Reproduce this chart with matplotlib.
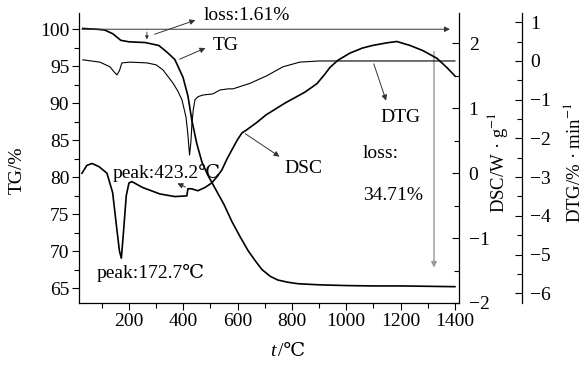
import matplotlib
matplotlib.use('agg')
import matplotlib.pyplot as plt
from matplotlib.ticker import MultipleLocator

plt.rcParams['font.family'] = ['Liberation Serif', 'DejaVu Serif', 'Noto Sans CJK SC']
plt.rcParams['mathtext.fontset'] = 'stix'
plt.rcParams['axes.unicode_minus'] = True

FS = 14

# TG curve (%)
tg_t = [30, 80, 110, 140, 170, 200, 260, 310, 340, 369, 399, 417, 432, 450, 469,
        490, 517, 550, 579, 610, 638, 665, 690, 720, 748, 785, 822, 900, 1000,
        1100, 1200, 1300, 1400]
tg_val = [100.1, 100.0, 99.9, 99.4, 98.5, 98.3, 98.2, 97.8, 96.9, 95.9, 93.5, 91.0,
          87.6, 84.5, 82.0, 80.3, 78.5, 76.3, 74.0, 71.9, 70.1, 68.7, 67.5, 66.6,
          66.1, 65.8, 65.6, 65.45, 65.35, 65.3, 65.3, 65.25, 65.2]

# DSC curve (W/g)
dsc_t = [27, 45, 64, 90, 119, 140, 155, 165, 172, 180, 190, 200, 211, 250, 314,
         369, 413, 417, 430, 454, 480, 505, 525, 542, 561, 579, 600, 616, 634,
         670, 705, 774, 848, 892, 920, 940, 969, 1013, 1060, 1098, 1150, 1186,
         1234, 1282, 1334, 1370, 1400]
dsc_val = [0.0, 0.12, 0.15, 0.1, 0.0, -0.3, -0.85, -1.2, -1.31, -0.9, -0.35, -0.15,
           -0.13, -0.22, -0.32, -0.36, -0.35, -0.24, -0.24, -0.27, -0.22, -0.15,
           -0.05, 0.05, 0.22, 0.36, 0.52, 0.62, 0.67, 0.78, 0.9, 1.08, 1.25, 1.38,
           1.52, 1.63, 1.74, 1.85, 1.93, 1.97, 2.01, 2.03, 1.97, 1.89, 1.77, 1.63,
           1.5]

# DTG curve (%/min)
dtg_t = [30, 93, 130, 145, 156, 165, 174, 204, 266, 300, 325, 362, 380, 395, 410,
         417, 423, 428, 432, 437, 443, 455, 472, 509, 535, 565, 583, 645, 708,
         767, 829, 900, 1000, 1100, 1200, 1300, 1400]
dtg_val = [0.03, -0.03, -0.15, -0.28, -0.36, -0.25, -0.05, -0.03, -0.05, -0.1,
           -0.23, -0.57, -0.78, -1.0, -1.45, -1.9, -2.43, -2.1, -1.6, -1.25, -1.0,
           -0.92, -0.88, -0.85, -0.75, -0.72, -0.72, -0.58, -0.38, -0.15, -0.03,
           0.0, 0.0, 0.0, 0.0, 0.0, 0.0]

fig = plt.figure(figsize=(5.85, 3.65), dpi=100)
ax = fig.add_axes([0.135, 0.170, 0.6496, 0.7945])
ax_dsc = ax.twinx()
ax_dtg = ax.twinx()

ax.plot(tg_t, tg_val, color='black', lw=1.2, zorder=3)
ax_dsc.plot(dsc_t, dsc_val, color='black', lw=1.2)
ax_dtg.plot(dtg_t, dtg_val, color='black', lw=0.8)

ax.set_xlim(16, 1415)
ax.set_ylim(63, 102.2)
ax_dsc.set_ylim(-2.0, 2.47)
ax_dtg.set_ylim(-6.25, 1.24)

# spines
for a in (ax, ax_dsc, ax_dtg):
    a.spines['top'].set_visible(False)
ax.spines['right'].set_visible(False)
for a in (ax_dsc, ax_dtg):
    a.spines['left'].set_visible(False)
    a.spines['bottom'].set_visible(False)
ax_dtg.spines['right'].set_position(('axes', 1.166))
for a in (ax, ax_dsc, ax_dtg):
    for s in a.spines.values():
        s.set_linewidth(0.9)

# ticks
ax.set_xticks(range(200, 1401, 200))
ax.xaxis.set_minor_locator(MultipleLocator(100))
ax.set_yticks(range(65, 101, 5))
ax.yaxis.set_minor_locator(MultipleLocator(2.5))
ax.tick_params(which='both', direction='out', top=False, right=False,
               labelsize=FS, width=0.8)
ax.tick_params(which='major', length=5, pad=2)
ax.tick_params(which='minor', length=3.5)

ax_dsc.set_yticks([-2, -1, 0, 1, 2])
ax_dsc.yaxis.set_minor_locator(MultipleLocator(0.5))
ax_dtg.set_yticks(range(-6, 2))
ax_dtg.yaxis.set_minor_locator(MultipleLocator(0.5))
for a, p in ((ax_dsc, 2), (ax_dtg, 1)):
    a.tick_params(which='both', direction='in', labelsize=FS, width=0.8)
    a.tick_params(which='major', length=5, pad=p + 5)
    a.tick_params(which='minor', length=3.5)

# axis labels
fig.text(17 / 585, 1 - 170 / 365, 'TG/%', rotation=90, ha='center', va='center', fontsize=FS)
fig.text(497 / 585, 1 - 163 / 365, 'DSC/W · g$^{-1}$', rotation=90, ha='center',
         va='center', fontsize=13.5)
fig.text(574 / 585, 1 - 163 / 365, 'DTG/% · min$^{-1}$', rotation=90, ha='center',
         va='center', fontsize=13.5)
fig.text(276 / 585, 1 - 352 / 365, 't', style='italic', ha='right', va='center', fontsize=FS)
fig.text(278 / 585, 1 - 352 / 365, '/℃', ha='left', va='center', fontsize=FS)

# annotations (TG data coordinates)
arr = dict(arrowstyle='-|>', color='#333333', lw=0.7, mutation_scale=8)
ax.annotate('', xy=(1392, 100), xytext=(16, 100), arrowprops=arr)
ax.annotate('', xy=(266, 98.25), xytext=(266, 100),
            arrowprops=dict(arrowstyle='-|>', color='#333333', lw=0.6, mutation_scale=5))
ax.annotate('', xy=(454, 101.35), xytext=(285, 99.2), arrowprops=arr)
ax.text(476, 101.9, 'loss:1.61%', fontsize=FS, va='center', ha='left')
ax.annotate('', xy=(491, 97.6), xytext=(377, 95.8), arrowprops=arr)
ax.text(509, 97.84, 'TG', fontsize=FS, va='center', ha='left')
ax.annotate('', xy=(1150, 90.0), xytext=(1098, 95.68), arrowprops=arr)
ax.text(1124, 88.1, 'DTG', fontsize=FS, va='center', ha='left')
ax.annotate('', xy=(763, 82.57), xytext=(620, 86.08), arrowprops=arr)
ax.text(774, 81.2, 'DSC', fontsize=FS, va='center', ha='left')
ax.text(1061, 83.24, 'loss:', fontsize=FS, va='center', ha='left')
ax.text(1061, 77.57, '34.71%', fontsize=FS, va='center', ha='left')
ax.annotate('', xy=(1323, 67.4), xytext=(1323, 97.4),
            arrowprops=dict(arrowstyle='-|>', color='#999999', lw=1.0, mutation_scale=8))
ax.text(141, 80.54, 'peak:423.2℃', fontsize=FS, va='center', ha='left')
ax.annotate('', xy=(369, 79.32), xytext=(417, 78.51), arrowprops=arr)
ax.text(82, 67.03, 'peak:172.7℃', fontsize=FS, va='center', ha='left')

fig.savefig('out.png', dpi=100)
plt.close('all')
